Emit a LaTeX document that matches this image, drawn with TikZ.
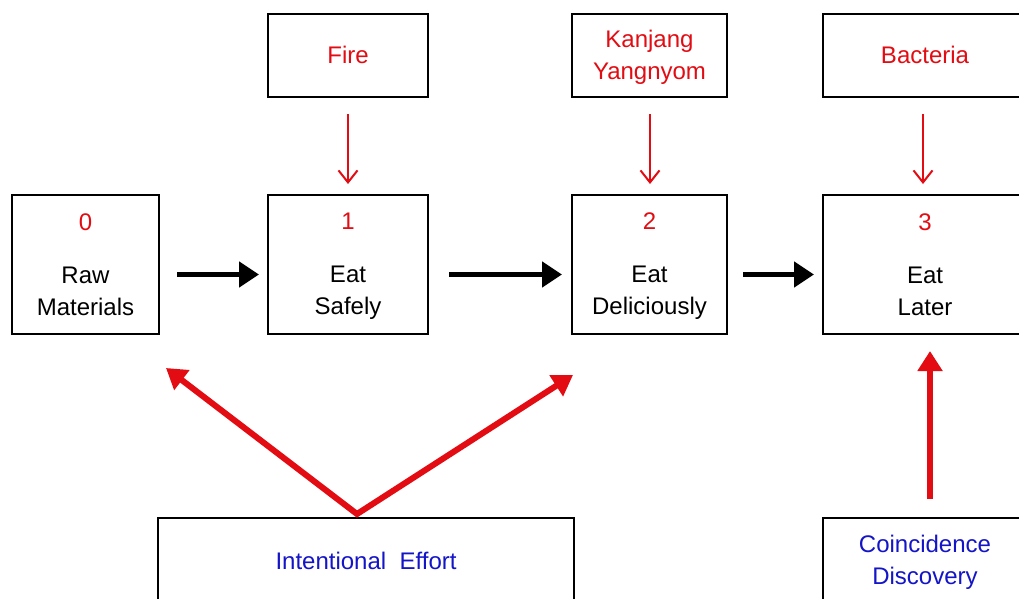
\documentclass[tikz,border=0pt]{standalone}
\usepackage{fontspec}
\setmainfont{Liberation Sans}
\usetikzlibrary{arrows.meta,calc}
\definecolor{myred}{RGB}{226,12,18}
\definecolor{myblue}{RGB}{20,20,200}
\tikzset{
  box/.style={draw=black, line width=2pt, inner sep=0pt, align=center,
              font=\fontsize{24}{32}\selectfont},
  thinred/.style={draw=myred, line width=2pt, -{Straight Barb[length=12pt,width=19pt,line width=2pt]}},
  blackarrow/.style={draw=black, line width=5pt, -{Triangle[length=20pt,width=25pt]}},
  redarrow/.style={draw=myred, line width=6pt, -{Triangle[length=20pt,width=24pt]}},
}
\newcommand{\st}{\rule[-4pt]{0pt}{24pt}}
\begin{document}
\begin{tikzpicture}[x=1pt,y=-1pt]
\clip (0,0) rectangle (1019,599);
\fill[white] (0,0) rectangle (1019,599);
% top boxes
\node[box, minimum width=160pt, minimum height=83pt, text=myred] (fire) at (348,55.5) {\st Fire};
\node[box, minimum width=155pt, minimum height=83pt, text=myred] (kan) at (649.5,55.5) {\st Kanjang\\\st Yangnyom};
\node[box, minimum width=204pt, minimum height=83pt, text=myred] (bac) at (925,55.5) {\st Bacteria};
% main boxes
\node[box, minimum width=147pt, minimum height=139pt] (b0) at (85.5,264.5) {\st\textcolor{myred}{0}\\[21pt]\st Raw\\\st Materials};
\node[box, minimum width=160pt, minimum height=139pt] (b1) at (348,264.5) {\st\textcolor{myred}{1}\\[21pt]\st Eat\\\st Safely};
\node[box, minimum width=155pt, minimum height=139pt] (b2) at (649.5,264.5) {\st\textcolor{myred}{2}\\[21pt]\st Eat\\\st Deliciously};
\node[box, minimum width=204pt, minimum height=139pt] (b3) at (925,264.5) {\st\textcolor{myred}{3}\\[21pt]\st Eat\\\st Later};
% bottom boxes
\node[box, minimum width=416pt, minimum height=86pt, text=myblue] (ie) at (366,561) {\st Intentional\ \ Effort};
\node[box, minimum width=204pt, minimum height=86pt, text=myblue] (cd) at (925,561) {\st Coincidence\\\st Discovery};
% thin red arrows
\draw[thinred, shorten <=16pt, shorten >=10pt] (fire.south) -- (b1.north);
\draw[thinred, shorten <=16pt, shorten >=10pt] ($(kan.south)+(0.5,0)$) -- ($(b2.north)+(0.5,0)$);
\draw[thinred, shorten <=16pt, shorten >=10pt] ($(bac.south)+(-2,0)$) -- ($(b3.north)+(-2,0)$);
% black arrows
\draw[blackarrow, shorten <=17pt, shorten >=8pt] ($(b0.east)+(0,10)$) -- ($(b1.west)+(0,10)$);
\draw[blackarrow, shorten <=20pt, shorten >=9pt] ($(b1.east)+(0,10)$) -- ($(b2.west)+(0,10)$);
\draw[blackarrow, shorten <=15pt, shorten >=8pt] ($(b2.east)+(0,10)$) -- ($(b3.west)+(0,10)$);
% red thick arrows
\coordinate (iestart) at ($(ie.north)+(-9,-3)$);
\coordinate (t0) at ($(b0.south east)+(6,33)$);
\coordinate (t2) at ($(b2.south west)+(2,40)$);
\draw[redarrow, line join=miter, {Triangle[length=20pt,width=24pt]}-{Triangle[length=20pt,width=24pt]}] (t0) -- (iestart) -- (t2);
\draw[redarrow, shorten <=18pt, shorten >=16pt] ($(cd.north)+(5,0)$) -- ($(b3.south)+(5,0)$);
\end{tikzpicture}
\end{document}
